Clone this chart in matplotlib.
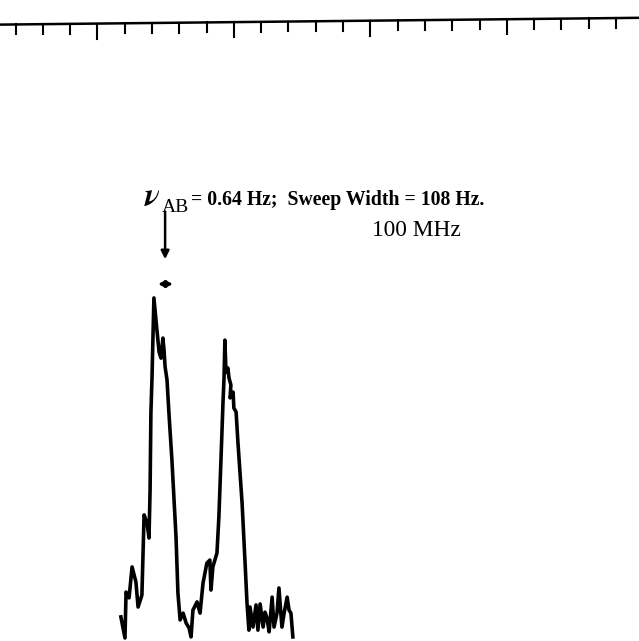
import matplotlib.pyplot as plt
import numpy as np

plt.rcParams['mathtext.fontset'] = 'stix'

# spectrum trace, x in chart divisions, y in relative intensity
freq = [3.86, 4.01, 4.05, 4.16, 4.27, 4.41, 4.49, 4.63, 4.71, 4.82, 4.89, 4.93,
        4.96, 5.00, 5.07, 5.18, 5.26, 5.33, 5.40, 5.44, 5.48, 5.55, 5.62, 5.73,
        5.88, 5.95, 6.03, 6.14, 6.25, 6.36, 6.43, 6.50, 6.65, 6.76, 6.87, 7.01,
        7.12, 7.16, 7.23, 7.38, 7.45, 7.53, 7.60, 7.64, 7.67, 7.71, 7.78, 7.82,
        7.89, 7.86, 7.97, 8.00, 8.08, 8.11, 8.15, 8.30, 8.41, 8.48, 8.55, 8.59,
        8.70, 8.81, 8.88, 8.96, 9.07, 9.14, 9.21, 9.29, 9.40, 9.47, 9.58, 9.65,
        9.76, 9.84, 9.95, 10.02, 10.09, 10.16]
intensity = [6.8, 0.6, 14.1, 12.4, 21.5, 17.1, 9.7, 13.2, 36.8, 34.4, 30.0, 44.1,
             66.8, 77.1, 100.6, 91.2, 84.7, 82.9, 88.8, 85.3, 80.3, 76.5, 66.8, 52.9,
             30.3, 13.8, 5.9, 7.9, 5.0, 3.5, 0.9, 8.8, 11.2, 7.9, 16.8, 22.6,
             23.5, 14.7, 21.5, 25.6, 36.2, 53.8, 69.7, 77.4, 88.2, 78.8, 80.0, 77.1,
             75.0, 71.2, 72.9, 68.2, 67.1, 63.2, 57.9, 40.3, 22.6, 10.9, 2.9, 9.7,
             3.8, 10.3, 2.9, 10.6, 3.8, 8.2, 6.5, 2.4, 12.6, 3.8, 7.9, 15.3,
             3.8, 7.9, 12.6, 8.8, 7.9, 0.9]

# chart scale at the top
scale_ticks = np.arange(0, 23)
long_ticks = [3, 8, 13, 18]

nu_text = r"$\boldsymbol{\nu}$"
sub_text = "AB"
title_text = "= 0.64 Hz;  Sweep Width = 108 Hz."
freq_text = "100 MHz"

fig = plt.figure(figsize=(6.39, 6.41), dpi=100)
ax = fig.add_axes([0, 0, 1, 1])
ax.set_xlim(-0.568, 22.84)
ax.set_ylim(-0.294, 188.24)
ax.axis('off')

ax.plot(freq, intensity, color='black', lw=2.6)

# tilted scale line with ticks
x0, x1 = -0.568, 22.84
y0, y1 = 181.0, 183.0
ax.plot([x0, x1], [y0, y1], color='black', lw=1.8)
for t in scale_ticks:
    yt = y0 + (y1 - y0) * (t - x0) / (x1 - x0)
    ln = 4.4 if t in long_ticks else 2.9
    ax.plot([t, t], [yt, yt - ln], color='black', lw=1.5)

ax.text(4.72, 127.6, nu_text, fontsize=23, ha='left', va='baseline')
ax.text(5.36, 126.0, sub_text, fontsize=14, family='Liberation Serif',
        ha='left', va='baseline')
ax.text(6.42, 127.9, title_text, fontsize=14.2, fontweight='bold',
        family='Liberation Serif', ha='left', va='baseline')
ax.text(13.06, 118.8, freq_text, fontsize=16.8, family='Liberation Serif',
        ha='left', va='baseline')

ax.annotate('', xy=(5.48, 112.0), xytext=(5.48, 126.0),
            arrowprops=dict(arrowstyle='-|>', color='black', lw=1.8,
                            mutation_scale=12, shrinkA=0, shrinkB=0))
ax.annotate('', xy=(5.22, 104.7), xytext=(5.77, 104.7),
            arrowprops=dict(arrowstyle='<|-|>', color='black', lw=2,
                            mutation_scale=9, shrinkA=0, shrinkB=0))

fig.savefig('out.png', dpi=100)
